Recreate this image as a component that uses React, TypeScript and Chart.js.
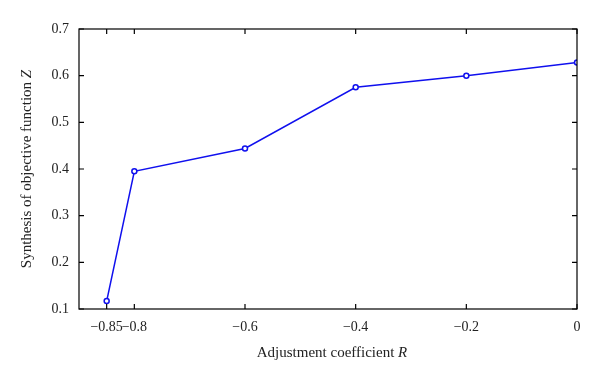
import React, { useEffect, useRef } from "react";
import { Chart, registerables } from "chart.js";

Chart.register(...registerables);

const xValues = [-0.85, -0.8, -0.6, -0.4, -0.2, 0];
const zValues = [0.117, 0.395, 0.444, 0.575, 0.6, 0.628];
const xTicks = [-0.85, -0.8, -0.6, -0.4, -0.2, 0];
const yTicks = [0.1, 0.2, 0.3, 0.4, 0.5, 0.6, 0.7];
const xTitle = ["Adjustment coefficient ", "R"];
const yTitle = ["Synthesis of objective function ", "Z"];

const FONT = "'Liberation Serif', 'DejaVu Serif', serif";

const fmt = (v: number) => {
  const r = Math.round(v * 100) / 100;
  if (r === 0) return "0";
  return (r < 0 ? "\u2212" : "") + String(Math.abs(r));
};

const boxPlugin = {
  id: "boxPlugin",
  afterDraw(chart: any) {
    const { ctx, chartArea: a, scales } = chart;
    const xs = scales.x;
    const ys = scales.y;
    ctx.save();
    ctx.strokeStyle = "#000";
    ctx.lineWidth = 1.2;
    ctx.strokeRect(a.left, a.top, a.right - a.left, a.bottom - a.top);
    const tl = 5;
    ctx.beginPath();
    xTicks.forEach((v) => {
      const px = xs.getPixelForValue(v);
      ctx.moveTo(px, a.bottom);
      ctx.lineTo(px, a.bottom - tl);
      ctx.moveTo(px, a.top);
      ctx.lineTo(px, a.top + tl);
    });
    yTicks.forEach((v) => {
      const py = ys.getPixelForValue(v);
      ctx.moveTo(a.left, py);
      ctx.lineTo(a.left + tl, py);
      ctx.moveTo(a.right, py);
      ctx.lineTo(a.right - tl, py);
    });
    ctx.stroke();

    ctx.fillStyle = "#222";
    ctx.textBaseline = "middle";
    const normal = `15px ${FONT}`;
    const italic = `italic 15px ${FONT}`;
    const drawMixed = (parts: string[], cx: number, cy: number, rot: number) => {
      ctx.save();
      ctx.translate(cx, cy);
      ctx.rotate(rot);
      ctx.font = normal;
      const w1 = ctx.measureText(parts[0]).width;
      ctx.font = italic;
      const w2 = ctx.measureText(parts[1]).width;
      const start = -(w1 + w2) / 2;
      ctx.textAlign = "left";
      ctx.font = normal;
      ctx.fillText(parts[0], start, 0);
      ctx.font = italic;
      ctx.fillText(parts[1], start + w1, 0);
      ctx.restore();
    };
    drawMixed(xTitle, (a.left + a.right) / 2 + 4, 353, 0);
    drawMixed(yTitle, 27, (a.top + a.bottom) / 2, -Math.PI / 2);
    ctx.restore();
  },
};

export default function App() {
  const ref = useRef<HTMLCanvasElement>(null);
  useEffect(() => {
    document.body.style.margin = "0";
    const c = new Chart(ref.current!, {
      type: "line",
      data: {
        datasets: [
          {
            data: xValues.map((x, i) => ({ x, y: zValues[i] })),
            borderColor: "#1010ee",
            backgroundColor: "#ffffff",
            pointBorderColor: "#1010ee",
            pointBackgroundColor: "#ffffff",
            pointRadius: 2.5,
            pointBorderWidth: 1.5,
            borderWidth: 1.5,
            tension: 0,
          },
        ],
      },
      options: {
        responsive: false,
        animation: false,
        layout: { padding: { left: 0, top: 29, right: 23, bottom: 0 } },
        plugins: { legend: { display: false }, tooltip: { enabled: false } },
        scales: {
          x: {
            type: "linear",
            min: -0.9,
            max: 0,
            grid: { display: false, drawTicks: false },
            border: { display: false },
            afterBuildTicks: (s: any) => {
              s.ticks = xTicks.map((v) => ({ value: v }));
            },
            afterFit: (s: any) => {
              s.height = 72;
            },
            ticks: {
              padding: 10,
              maxRotation: 0,
              autoSkip: false,
              color: "#222",
              font: { family: FONT, size: 14 },
              callback: (v: any) => fmt(Number(v)),
            },
          },
          y: {
            type: "linear",
            min: 0.1,
            max: 0.7,
            grid: { display: false, drawTicks: false },
            border: { display: false },
            afterBuildTicks: (s: any) => {
              s.ticks = yTicks.map((v) => ({ value: v }));
            },
            afterFit: (s: any) => {
              s.width = 79;
            },
            ticks: {
              padding: 10,
              autoSkip: false,
              color: "#222",
              font: { family: FONT, size: 14 },
              callback: (v: any) => fmt(Number(v)),
            },
          },
        },
      },
      plugins: [boxPlugin],
    } as any);
    return () => c.destroy();
  }, []);
  return <canvas ref={ref} width={600} height={381} style={{ display: "block" }} />;
}
